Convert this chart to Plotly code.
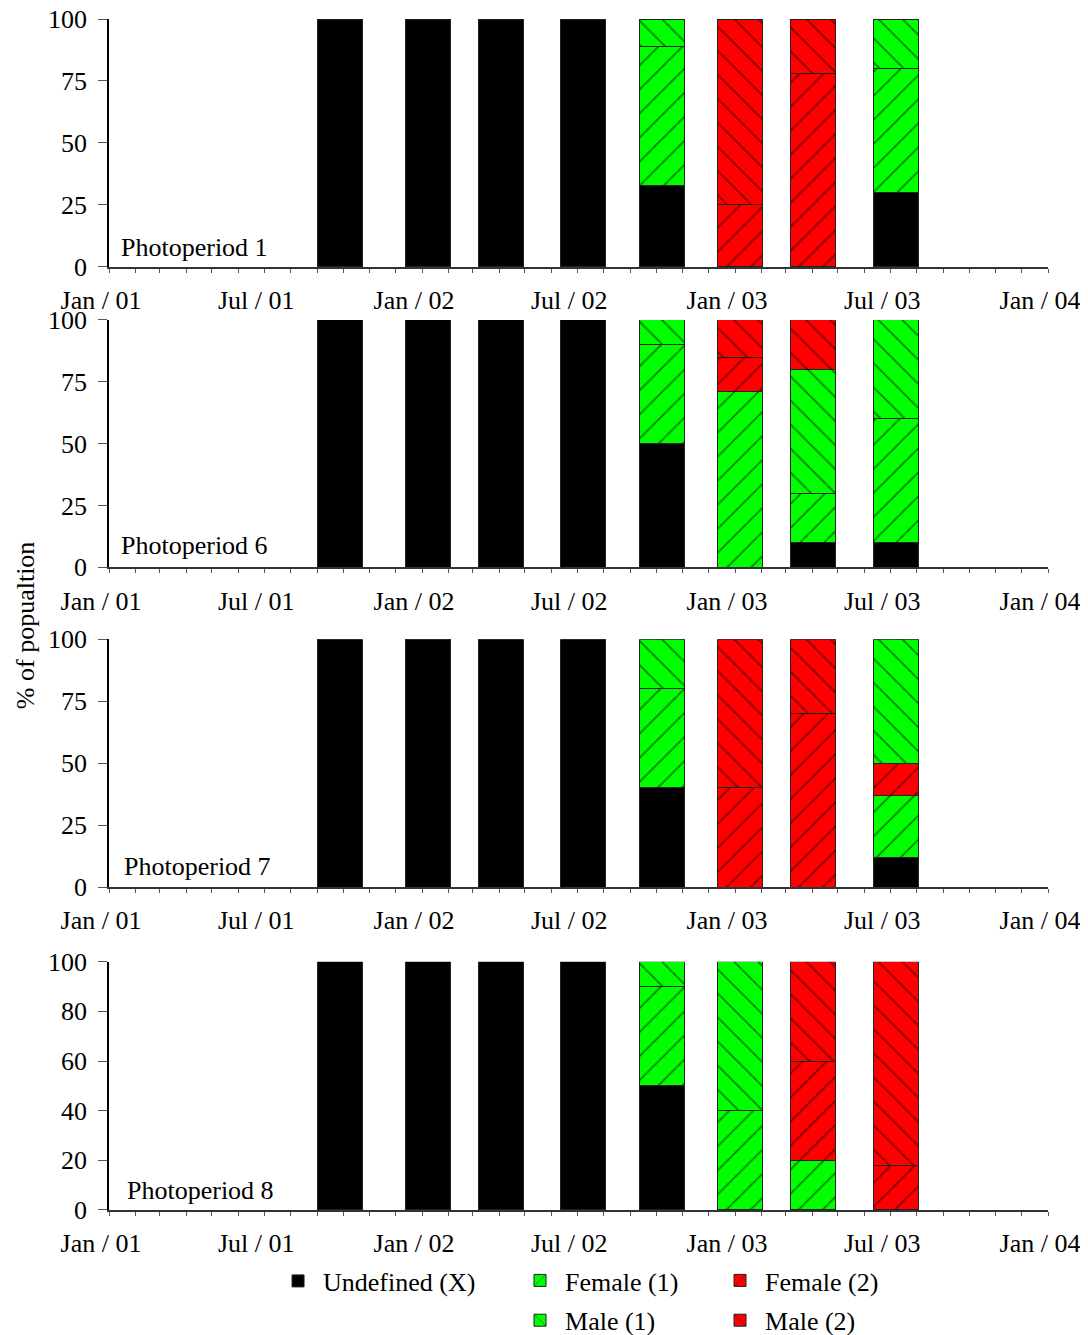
import plotly.graph_objects as go
from plotly.subplots import make_subplots

# ---------------- data ----------------
sample_dates = ["2001-09-27", "2002-01-08", "2002-04-03", "2002-07-08",
                "2002-10-08", "2003-01-07", "2003-04-02", "2003-07-08"]

series_names = ["Undefined (X)", "Female (1)", "Female (2)", "Male (1)", "Male (2)"]

N = None
# Photoperiod 1
p1_undefined = [100, 100, 100, 100, 33, N, N, 30]
p1_female1   = [N, N, N, N, 56, N, N, 50]
p1_female2   = [N, N, N, N, N, 25, 78, N]
p1_male1     = [N, N, N, N, 11, N, N, 20]
p1_male2     = [N, N, N, N, N, 75, 22, N]
# Photoperiod 6
p6_undefined = [100, 100, 100, 100, 50, N, 10, 10]
p6_female1   = [N, N, N, N, 40, 71, 20, 50]
p6_female2   = [N, N, N, N, N, 14, N, N]
p6_male1     = [N, N, N, N, 10, N, 50, 40]
p6_male2     = [N, N, N, N, N, 15, 20, N]
# Photoperiod 7
p7_undefined = [100, 100, 100, 100, 40, N, N, 12]
p7_female1   = [N, N, N, N, 40, N, N, 25]
p7_female2   = [N, N, N, N, N, 40, 70, 13]
p7_male1     = [N, N, N, N, 20, N, N, 50]
p7_male2     = [N, N, N, N, N, 60, 30, N]
# Photoperiod 8
p8_undefined = [100, 100, 100, 100, 50, N, N, N]
p8_female1   = [N, N, N, N, 40, 40, 20, N]
p8_female2   = [N, N, N, N, N, N, 40, 18]
p8_male1     = [N, N, N, N, 10, 60, N, N]
p8_male2     = [N, N, N, N, N, N, 40, 82]

panel_labels = ["Photoperiod 1", "Photoperiod 6", "Photoperiod 7", "Photoperiod 8"]

x_tick_dates = ["2001-01-01", "2001-07-01", "2002-01-01", "2002-07-01",
                "2003-01-01", "2003-07-01", "2004-01-01"]
x_tick_text = ["Jan / 01", "Jul / 01", "Jan / 02", "Jul / 02",
               "Jan / 03", "Jul / 03", "Jan / 04"]

y_ticks_quarters = [0, 25, 50, 75, 100]
y_ticks_fifths = [0, 20, 40, 60, 80, 100]

# ---------------- styles ----------------
FONT = "Liberation Serif, Times New Roman, serif"
FS = 26
series_colors = ["#000000", "#00FF00", "#FF0000", "#00FF00", "#FF0000"]
series_patterns = ["", "/", "/", "\\", "\\"]
series_legend = ["legend", "legend2", "legend3", "legend2", "legend3"]
bar_width_ms = 52.5 * 86400000

panels = [
    [p1_undefined, p1_female1, p1_female2, p1_male1, p1_male2],
    [p6_undefined, p6_female1, p6_female2, p6_male1, p6_male2],
    [p7_undefined, p7_female1, p7_female2, p7_male1, p7_male2],
    [p8_undefined, p8_female1, p8_female2, p8_male1, p8_male2],
]
panel_yticks = [y_ticks_quarters, y_ticks_quarters, y_ticks_quarters, y_ticks_fifths]

# pixel layout (plot area y 19..1210 in the page)
domains = [[0.7918, 1.0], [0.5396, 0.7473], [0.2712, 0.4792], [0.0, 0.2085]]
label_pos = [(0.0106, 0.077), (0.0106, 0.089), (0.0138, 0.081), (0.017, 0.077)]

fig = make_subplots(rows=4, cols=1)

for r, panel in enumerate(panels):
    for s, vals in enumerate(panel):
        pat = dict(shape=series_patterns[s], fgcolor="black",
                   bgcolor=series_colors[s], size=17, solidity=0.1)
        fig.add_trace(go.Bar(
            x=sample_dates, y=vals, name=series_names[s],
            width=[bar_width_ms] * len(sample_dates),
            marker=dict(color=series_colors[s], line=dict(color="#222", width=1),
                        pattern=pat),
            showlegend=(r == 0), legendgroup=series_names[s],
            legend=series_legend[s],
        ), row=r + 1, col=1)

for r in range(4):
    xa = "xaxis" if r == 0 else f"xaxis{r+1}"
    ya = "yaxis" if r == 0 else f"yaxis{r+1}"
    fig.layout[xa].update(
        type="date", range=["2001-01-01", "2004-01-01"],
        tickmode="array", tickvals=x_tick_dates, ticktext=x_tick_text,
        ticks="outside", ticklen=4, tickcolor="#555", tickwidth=1,
        minor=dict(ticks="outside", dtick="M1", tick0="2001-01-01",
                   ticklen=4, tickcolor="#555", tickwidth=1),
        showline=True, linecolor="#333", linewidth=2,
        showgrid=False, zeroline=False, automargin=False,
        tickfont=dict(family=FONT, size=FS, color="black"),
        ticklabelstandoff=5, ticklabelshift=-8, ticklabeloverflow="allow",
    )
    fig.layout[ya].update(
        domain=domains[r], range=[0, 100],
        tickmode="array", tickvals=panel_yticks[r],
        ticks="outside", ticklen=9, tickcolor="#555", tickwidth=1,
        showline=True, linecolor="black", linewidth=1.5,
        showgrid=False, zeroline=False, automargin=False,
        tickfont=dict(family=FONT, size=FS, color="black"),
        ticklabelstandoff=6, ticklabeloverflow="allow",
    )
    xref = "x domain" if r == 0 else f"x{r+1} domain"
    yref = "y domain" if r == 0 else f"y{r+1} domain"
    fig.add_annotation(text=panel_labels[r], xref=xref, yref=yref,
                       x=label_pos[r][0], y=label_pos[r][1],
                       xanchor="left", yanchor="middle", showarrow=False,
                       font=dict(family=FONT, size=FS, color="black"))

fig.add_annotation(text="% of popualtion", xref="paper", yref="paper",
                   x=-0.0895, y=0.491, textangle=-90, showarrow=False,
                   xanchor="center", yanchor="middle",
                   font=dict(family=FONT, size=FS, color="black"))

legend_common = dict(font=dict(family=FONT, size=FS), itemwidth=40,
                     bgcolor="rgba(0,0,0,0)", traceorder="grouped",
                     tracegroupgap=3, yanchor="middle", xanchor="left")

# page body has an 8px margin, so the figure is 8px smaller than the window
fig.update_layout(
    width=1080, height=1327,
    margin=dict(l=101, r=40, t=11, b=125, autoexpand=False),
    barmode="stack",
    plot_bgcolor="white", paper_bgcolor="white",
    font=dict(family=FONT, size=FS, color="black"),
    legend=dict(x=0.1747, y=-0.0596, **legend_common),
    legend2=dict(x=0.4324, y=-0.0760, **legend_common),
    legend3=dict(x=0.6454, y=-0.0760, **legend_common),
)

fig.write_html("out.html")
